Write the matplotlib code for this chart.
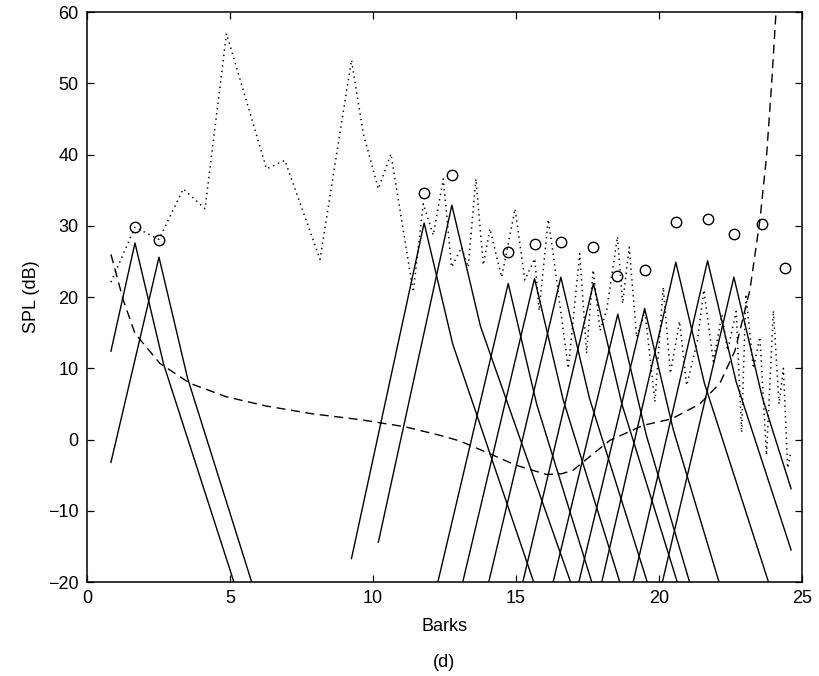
import matplotlib
matplotlib.use("Agg")
import matplotlib.pyplot as plt

plt.rcParams['font.family'] = ['Liberation Sans', 'DejaVu Sans']

# signal spectrum (dotted)
spec_x = [0.84, 1.68, 2.52, 3.37, 4.13, 4.88, 6.28, 6.92, 8.15, 9.25, 9.66, 10.19, 10.63,
          11.41, 11.76, 12.11, 12.46, 12.75, 13.1, 13.33, 13.6, 13.86, 14.09, 14.5, 14.97,
          15.31, 15.66, 15.81, 16.13, 16.3, 16.83, 17.23, 17.47, 17.7, 17.94, 18.17, 18.55,
          18.73, 18.96, 19.22, 19.51, 19.86, 20.15, 20.4, 20.72, 20.97, 21.35, 21.57, 21.9,
          22.2, 22.4, 22.7, 22.89, 23.04, 23.3, 23.53, 23.76, 24.0, 24.2, 24.35, 24.5, 24.6]
spec_y = [22.1, 29.8, 28.1, 35.2, 32.4, 57.0, 38.0, 39.2, 25.3, 53.3, 43.0, 35.2, 40.1,
          20.7, 33.1, 28.7, 36.6, 24.2, 27.0, 24.2, 36.6, 24.5, 29.6, 22.8, 32.4,
          22.4, 25.4, 18.1, 30.9, 26.1, 10.0, 26.1, 12.1, 23.8, 15.3, 18.1, 28.5,
          19.1, 27.0, 14.4, 18.0, 5.3, 21.4, 9.3, 16.6, 7.6, 14.0, 21.0, 11.0,
          17.5, 12.5, 18.0, 1.0, 20.4, 10.0, 14.4, -2.2, 18.1, 5.0, 10.0, -4.0, -2.0]

# absolute threshold in quiet (dashed)
thr_x = [0.84, 1.27, 1.68, 2.55, 3.6, 4.88, 6.28, 7.91, 9.55, 11.12, 12.34, 13.04, 14.09,
         15.0, 16.07, 16.6, 17.0, 17.7, 18.29, 19.45, 20.44, 21.43, 22.13, 22.66, 23.18,
         23.53, 23.76, 23.94, 24.09]
thr_y = [26.0, 19.6, 14.9, 10.7, 7.9, 6.0, 4.7, 3.6, 2.8, 1.8, 0.6, -0.2, -2.0,
         -3.6, -4.9, -4.8, -4.3, -2.0, -0.1, 2.0, 2.9, 5.0, 7.9, 12.5, 21.0,
         30.8, 39.7, 50.0, 59.8]

# tonal maskers (circles)
tone_x = [1.68, 2.52, 11.79, 12.76, 14.73, 15.65, 16.57, 17.71, 18.55, 19.50,
          20.59, 21.70, 22.62, 23.62, 24.41]
tone_y = [29.9, 28.0, 34.6, 37.2, 26.4, 27.5, 27.7, 27.1, 22.9, 23.8,
          30.5, 30.9, 28.8, 30.2, 24.1]

# individual masking thresholds (solid), vertices
mask_x = [[0.84, 1.68, 2.68, 5.14],
          [0.84, 2.52, 3.52, 5.76],
          [9.25, 11.79, 12.79, 15.62],
          [10.19, 12.76, 13.76, 16.91],
          [12.27, 14.73, 15.73, 17.65],
          [13.14, 15.65, 16.65, 18.63],
          [14.05, 16.57, 17.57, 19.59],
          [15.24, 17.71, 18.71, 20.64],
          [16.30, 18.56, 19.56, 21.07],
          [17.20, 19.50, 20.50, 22.10],
          [18.00, 20.59, 21.59, 23.83],
          [19.10, 21.70, 22.70, 24.62],
          [20.12, 22.62, 23.62, 24.62]]
mask_y = [[12.4, 27.6, 10.6, -20],
          [-3.2, 25.6, 8.6, -20],
          [-16.7, 30.4, 13.4, -20],
          [-14.4, 32.9, 15.9, -20],
          [-20, 21.9, 4.9, -20],
          [-20, 22.6, 5.6, -20],
          [-20, 22.8, 5.8, -20],
          [-20, 21.9, 4.9, -20],
          [-20, 17.6, 0.6, -20],
          [-20, 18.4, 1.4, -20],
          [-20, 24.9, 7.9, -20],
          [-20, 25.1, 8.1, -15.5],
          [-20, 22.8, 5.8, -6.9]]

fig = plt.figure(figsize=(8.2, 6.76), dpi=100)
ax = fig.add_axes([0.106, 0.139, 0.872, 0.843])

for mx, my in zip(mask_x, mask_y):
    ax.plot(mx, my, color="k", lw=1.0)
ax.plot(spec_x, spec_y, color="k", lw=1.1, linestyle=(0, (0.9, 2.6)))
ax.plot(thr_x, thr_y, color="k", lw=1.0, linestyle=(0, (6.5, 4)))
ax.plot(tone_x, tone_y, "o", ms=7.5, mfc="none", mec="k", mew=1.0)

ax.set_xlim(0, 25)
ax.set_ylim(-20, 60)
ax.set_xticks([0, 5, 10, 15, 20, 25])
ax.set_yticks([-20, -10, 0, 10, 20, 30, 40, 50, 60])
ax.tick_params(direction="in", length=5, width=0.9, top=True, right=True,
               labelsize=13, pad=6)
for s in ax.spines.values():
    s.set_linewidth(1.1)
ax.set_xlabel("Barks", fontsize=13, labelpad=8)
ax.set_ylabel("SPL (dB)", fontsize=13, labelpad=6)
fig.text(0.542, 0.008, "(d)", ha="center", va="bottom", fontsize=13)

fig.savefig("out.png", dpi=100)
